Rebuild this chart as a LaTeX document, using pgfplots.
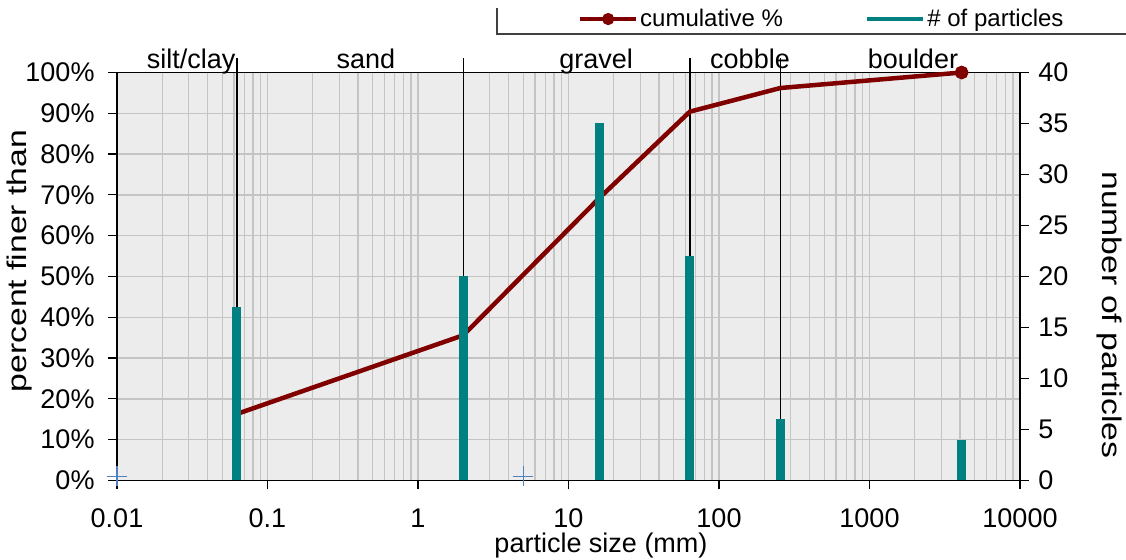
\documentclass[border=0pt]{standalone}
\usepackage{pgfplots}
\pgfplotsset{compat=1.18}
\usepackage{fontspec}
\setmainfont{Liberation Sans}
\usepackage{graphicx}
\definecolor{bggray}{RGB}{236,236,236}
\definecolor{gridgray}{RGB}{196,196,196}
\definecolor{cumred}{RGB}{128,0,0}
\definecolor{tealbar}{RGB}{0,128,128}
\definecolor{plusblue}{RGB}{79,129,189}
\newcommand{\tfont}{\fontsize{27}{31}\selectfont}
\newcommand{\lfont}{\fontsize{24}{28}\selectfont}
\newcommand{\cfont}{\fontsize{27}{31}\selectfont}
\begin{document}
\begin{tikzpicture}
\begin{axis}[
  at={(0,0)}, anchor=south west,
  scale only axis, width=903pt, height=408pt,
  xmode=log, xmin=0.01, xmax=10000,
  ymin=0, ymax=100,
  axis background/.style={fill=bggray},
  xmajorgrids, xminorgrids, ymajorgrids,
  major grid style={gridgray, line width=1.3pt},
  minor grid style={gridgray, line width=1.3pt},
  xtick={0.01,0.1,1,10,100,1000,10000},
  xticklabels={0.01,0.1,1,10,100,1000,10000},
  minor xtick={0.02,0.03,0.04,0.05,0.06,0.07,0.08,0.09,0.2,0.3,0.4,0.5,0.6,0.7,0.8,0.9,2,3,4,5,6,7,8,9,20,30,40,50,60,70,80,90,200,300,400,500,600,700,800,900,2000,3000,4000,5000,6000,7000,8000,9000},
  minor tick length=0pt,
  ytick={0,10,...,100},
  yticklabel={\pgfmathprintnumber{\tick}\%},
  /pgf/number format/assume math mode=true,
  tick align=outside, major tick length=9pt,
  tick style={black, line width=1.2pt},
  axis line style={line width=1.6pt},
  xtick pos=bottom, ytick pos=left,
  tick label style={font=\tfont},
  yticklabel style={xshift=-10pt},
  xticklabel style={yshift=-16pt},
  clip=false,
  xlabel={particle size (mm)},
  xlabel style={font=\cfont, at={(axis description cs:0.536,0)}, anchor=base, yshift=-71.5pt},
  ylabel={\scalebox{1.25}[1]{percent finer than}},
  ylabel style={font=\cfont, at={(axis description cs:-0.1074,0.538)}, anchor=center},
  legend style={draw=none, fill=none, at={(axis description cs:0.5105,1.131)}, anchor=west, inner sep=0pt, font=\lfont,
    /tikz/every even column/.append style={column sep=80pt}},
  legend columns=2,
  legend cell align=left,
  legend image code/.code={\draw[#1, mark repeat=2, mark phase=2] plot coordinates {(0pt,0pt) (28pt,0pt) (56pt,0pt)};},
]
% class boundaries
\addplot[black, line width=1.5pt, forget plot] coordinates {(0.0625,0) (0.0625,103.5)};
\addplot[black, line width=1.5pt, forget plot] coordinates {(2,0) (2,103.5)};
\addplot[black, line width=1.5pt, forget plot] coordinates {(64,0) (64,103.5)};
\addplot[black, line width=1.5pt, forget plot] coordinates {(256,0) (256,103.5)};
% blue plus markers
\addplot[only marks, mark=+, mark size=10pt, plusblue, line width=1.2pt, forget plot] coordinates {(0.01,1) (5,1)};
% cumulative
\addplot[cumred, line width=4.5pt, mark=*, mark size=4.5pt, mark indices={6}, forget plot] coordinates {
(0.0625,16.3) (2,35.6) (16,69.2) (64,90.4) (256,96.2) (4096,100)};
\addlegendimage{cumred, line width=4pt, mark=*, mark size=4pt}
\addlegendentry{cumulative \%}
\addlegendimage{tealbar, line width=4.5pt}
\addlegendentry{\# of particles}
% category labels
\node[font=\cfont, anchor=base] at (axis description cs:0.0820,1.011) {silt/clay};
\node[font=\cfont, anchor=base] at (axis description cs:0.2757,1.011) {sand};
\node[font=\cfont, anchor=base] at (axis description cs:0.5305,1.011) {gravel};
\node[font=\cfont, anchor=base] at (axis description cs:0.7010,1.011) {cobble};
\node[font=\cfont, anchor=base] at (axis description cs:0.8815,1.011) {boulder};
% legend frame (left and bottom edges)
\draw[line width=1.2pt, black!75] (axis description cs:0.4208,1.158) |- (axis description cs:1.2,1.0944);
\end{axis}
\begin{axis}[
  at={(0,0)}, anchor=south west,
  scale only axis, width=903pt, height=408pt,
  xmode=log, xmin=0.01, xmax=10000,
  ymin=0, ymax=40,
  axis x line=none, axis y line*=right,
  ytick={0,5,...,40},
  /pgf/number format/assume math mode=true,
  tick align=outside, major tick length=9pt,
  tick style={black, line width=1.2pt},
  axis line style={line width=1.6pt},
  tick label style={font=\tfont},
  yticklabel style={xshift=6pt},
  ylabel={\scalebox{1.25}[1]{number of particles}},
  ylabel style={font=\cfont, at={(axis description cs:1.0986,0.406)}, anchor=center, rotate=180},
]
\addplot[ycomb, tealbar, line width=9pt] coordinates {
(0.0625,17) (2,20) (16,35) (64,22) (256,6) (4096,4)};
\end{axis}
\pgfresetboundingbox
\path[use as bounding box] (-117pt,-78.5pt) rectangle (1009pt,480.5pt);
\end{tikzpicture}
\end{document}
